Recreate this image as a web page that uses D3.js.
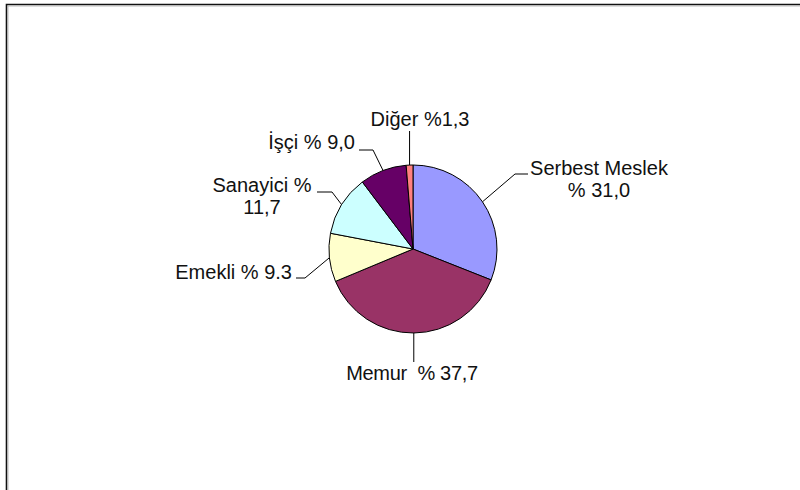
<!DOCTYPE html>
<html>
<head>
<meta charset="utf-8">
<script src="https://cdn.jsdelivr.net/npm/d3@7"></script>
<style>
  html, body { margin: 0; padding: 0; background: #fff; }
  svg { display: block; }
  text { font-family: "Liberation Sans", Arial, sans-serif; font-size: 20px; fill: #111; white-space: pre; }
</style>
</head>
<body>
<svg id="chart" width="800" height="490"></svg>
<script>
// Meslek grupları ve yüzde payları (saat 12'den başlayarak saat yönünde)
const categories = ["Serbest Meslek", "Memur", "Emekli", "Sanayici", "İşçi", "Diğer"];
const values = [31.0, 37.7, 9.3, 11.7, 9.0, 1.3];
const valueLabels = ["% 31,0", "% 37,7", "% 9.3", "% 11,7", "% 9,0", "%1,3"];
const colors = ["#9999FF", "#993366", "#FFFFCC", "#CCFFFF", "#660066", "#FF8080"];

const svg = d3.select("#chart");
const W = 800, H = 490;
const cx = 413, cy = 249, R = 84;

// Çerçeve (üst ve sol kenar)
svg.append("path")
  .attr("d", `M6.5,${H} L6.5,4.5 L${W},4.5`)
  .attr("fill", "none")
  .attr("stroke", "#111")
  .attr("stroke-width", 1.6);
svg.append("path")
  .attr("d", `M8,${H} L8,6 L${W},6`)
  .attr("fill", "none")
  .attr("stroke", "#aaa")
  .attr("stroke-width", 0.8);

const pie = d3.pie().sort(null).value(d => d)(values);
const arc = d3.arc().innerRadius(0).outerRadius(R);

const g = svg.append("g").attr("transform", `translate(${cx},${cy})`);
g.selectAll("path.slice")
  .data(pie)
  .join("path")
  .attr("class", "slice")
  .attr("d", arc)
  .attr("fill", (d, i) => colors[i])
  .attr("stroke", "#000")
  .attr("stroke-width", 1)
  .attr("stroke-linejoin", "round");

// Etiket yerleşimi: kırılma noktası, yatay uç, metin konumu ve satırları
const layout = [
  { elbow: [515, 174], end: [528, 174], anchor: "middle", x: 599, y: 175, lines: [categories[0], valueLabels[0]] },
  { elbow: null, end: [null, 362], anchor: "middle", x: 412, y: 380, lines: [categories[1] + "  " + valueLabels[1]], small: true },
  { elbow: [305, 278], end: [296, 278], anchor: "end", x: 292, y: 279, lines: [categories[2] + " " + valueLabels[2]] },
  { elbow: [332, 192], end: [317, 192], anchor: "middle", x: 262, y: 192, lines: [categories[3] + " %", valueLabels[3].replace("% ", "")] },
  { elbow: [373, 150], end: [359, 150], anchor: "end", x: 355, y: 149, lines: [categories[4] + " " + valueLabels[4]] },
  { elbow: null, end: [null, 131], anchor: "middle", x: 420, y: 126, lines: [categories[5] + " " + valueLabels[5]] }
];

pie.forEach((d, i) => {
  const a = (d.startAngle + d.endAngle) / 2;
  const px = cx + R * Math.sin(a);
  const py = cy - R * Math.cos(a);
  const L = layout[i];
  const pts = [[px, py]];
  if (L.elbow) pts.push(L.elbow);
  pts.push([L.end[0] === null ? px : L.end[0], L.end[1]]);
  svg.append("path")
    .attr("d", d3.line()(pts))
    .attr("fill", "none")
    .attr("stroke", "#000")
    .attr("stroke-width", 1);

  const t = svg.append("text")
    .attr("text-anchor", L.anchor)
    .attr("x", L.x)
    .attr("y", L.y);
  if (L.small) t.style("letter-spacing", "-0.3px");
  L.lines.forEach((s, k) => {
    t.append("tspan")
      .attr("x", L.x)
      .attr("dy", k === 0 ? 0 : 22)
      .text(s);
  });
});
</script>
</body>
</html>
